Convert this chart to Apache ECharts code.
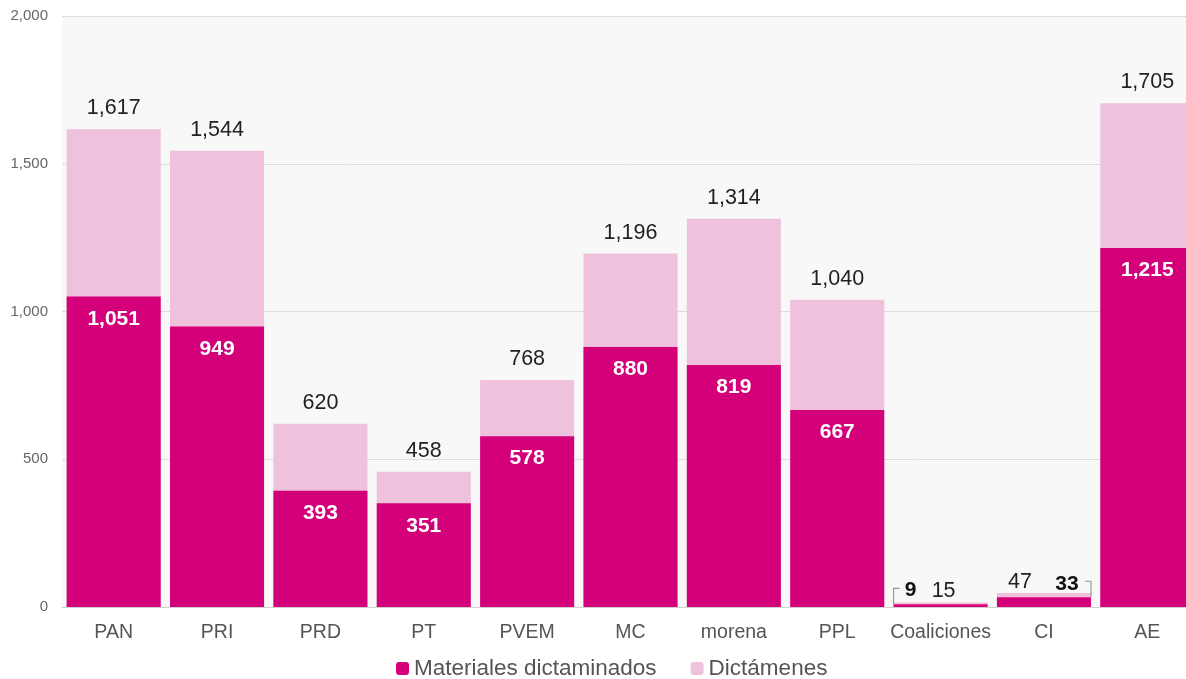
<!DOCTYPE html>
<html><head><meta charset="utf-8">
<script src="https://cdn.jsdelivr.net/npm/echarts@6/dist/echarts.min.js"></script>
<style>html,body{margin:0;padding:0;background:#fff;overflow:hidden;width:1186px;height:679px}#c{width:1199px;height:679px}</style>
</head><body><div id="c"></div>
<script>
const categories = ['PAN','PRI','PRD','PT','PVEM','MC','morena','PPL','Coaliciones','CI','AE'];
const materiales = [1051, 949, 393, 351, 578, 880, 819, 667, 9, 33, 1215];
const dictamenes = [1617, 1544, 620, 458, 768, 1196, 1314, 1040, 15, 47, 1705];
const yTicks = [0, 500, 1000, 1500, 2000];
// small-value labels moved aside with a bracket: [category, side]
const bracketed = [['Coaliciones', 'left'], ['CI', 'right']];

const fmt = v => v.toLocaleString('en-US');
const FONT = 'Liberation Sans, Arial, sans-serif';
const BAR_FRAC = 0.91;

const darkData = materiales.map((v, i) => {
  if (categories[i] === 'Coaliciones' || categories[i] === 'CI') {
    return {value: v, label: {position: 'top', color: '#111', distance: 4}};
  }
  return v;
});
const lightData = dictamenes.map((v, i) => {
  if (categories[i] === 'CI') return {value: v, label: {offset: [-24, 0], distance: 0}};
  if (categories[i] === 'Coaliciones') return {value: v, label: {offset: [3, 0], distance: 0}};
  return v;
});
const bracketData = bracketed.map(([c, side]) => {
  const i = categories.indexOf(c);
  return [i, materiales[i], side === 'left' ? -1 : 1];
});

const chart = echarts.init(document.getElementById('c'));
chart.setOption({
  animation: false,
  grid: {left: 62, right: 0, top: 16, bottom: 72, show: true, backgroundColor: '#f8f8f8', borderWidth: 0},
  legend: {
    bottom: -6, left: 391, itemWidth: 13, itemHeight: 13, itemGap: 34,
    data: ['Materiales dictaminados', 'Dictámenes'],
    textStyle: {fontFamily: FONT, fontSize: 22.5, color: '#555'}
  },
  xAxis: {
    type: 'category', data: categories,
    axisTick: {show: false},
    axisLine: {lineStyle: {color: '#d0d0d0'}},
    axisLabel: {interval: 0, fontFamily: FONT, fontSize: 19.5, color: '#555', margin: 16}
  },
  yAxis: {
    type: 'value', min: 0, max: 2000, interval: 500,
    axisLabel: {fontFamily: FONT, fontSize: 15, color: '#666', margin: 14, formatter: v => fmt(v)},
    splitLine: {lineStyle: {color: '#dcdcdc'}}
  },
  series: [
    {
      name: 'Dictámenes', type: 'bar', data: lightData,
      barCategoryGap: '9%', barGap: '-100%',
      itemStyle: {color: '#f0c1dd'},
      label: {show: true, position: 'top', distance: 10, fontFamily: FONT, fontSize: 21.5, color: '#222', formatter: p => fmt(p.value)},
      z: 1
    },
    {
      name: 'Materiales dictaminados', type: 'bar', data: darkData,
      barCategoryGap: '9%', barGap: '-100%',
      itemStyle: {color: '#d4007a'},
      label: {show: true, position: 'insideTop', distance: 12, fontFamily: FONT, fontSize: 21, fontWeight: 'bold', color: '#fff', formatter: p => fmt(p.value)},
      labelLayout: function (p) {
        if (categories[p.dataIndex] === 'Coaliciones') return {dx: -30, dy: 0};
        if (categories[p.dataIndex] === 'CI') return {dx: 23, dy: 1};
        return {};
      },
      z: 2
    },
    {
      name: 'bracket', type: 'custom', silent: true, z: 3,
      data: bracketData,
      renderItem: function (params, api) {
        const pt = api.coord([api.value(0), api.value(1)]);
        const side = api.value(2);
        const bw = api.size([1, 0])[0] * BAR_FRAC;
        const xe = pt[0] + side * bw / 2;
        const yb = pt[1];
        const yt = yb - 16;
        return {
          type: 'polyline',
          shape: {points: [[xe, yb], [xe, yt], [xe - side * 6, yt]]},
          style: {stroke: '#9a9a9a', lineWidth: 1.2, fill: null}
        };
      }
    }
  ]
});
</script></body></html>
